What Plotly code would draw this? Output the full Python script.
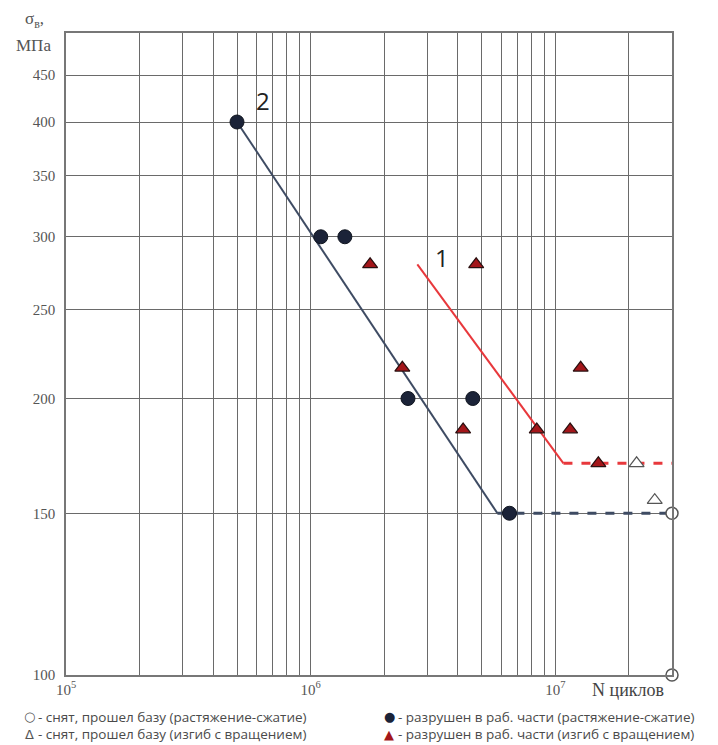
import numpy as np
import plotly.graph_objects as go

# Fatigue test results: stress amplitude vs. number of cycles
# tension-compression, failed in the working part
tc_fail_N = [5.0e5, 1.1e6, 1.38e6, 2.5e6, 4.6e6, 6.5e6]
tc_fail_S = [400, 300, 300, 200, 200, 150]
# tension-compression, run-out (removed after reaching the base)
tc_run_N = [3.0e7, 3.0e7]
tc_run_S = [150, 100]
# rotating bending, failed in the working part
rb_fail_N = [1.75e6, 2.37e6, 4.75e6, 4.2e6, 8.4e6, 1.15e7, 1.27e7, 1.5e7]
rb_fail_S = [280, 216, 280, 185, 185, 185, 216, 170]
# rotating bending, run-out
rb_run_N = [2.15e7, 2.55e7]
rb_run_S = [170, 155]

# Fatigue curves: sloped part (solid) and endurance limit (dashed)
curve2_N = [5.0e5, 5.8e6]
curve2_S = [400, 150]
curve2_lim_N = [5.8e6, 3.0e7]
curve2_lim_S = [150, 150]
curve1_N = [2.73e6, 1.08e7]
curve1_S = [280, 170]
curve1_lim_N = [1.08e7, 3.0e7]
curve1_lim_S = [170, 170]

y_ticks = [100, 150, 200, 250, 300, 350, 400, 450]
x_grid = [1e5] + [k * 1e5 for k in range(2, 10)] + [1e6] + \
         [k * 1e6 for k in range(2, 10)] + [1e7, 2e7]
x_text = {1e5: "10<sup>5</sup>", 1e6: "10<sup>6</sup>", 1e7: "10<sup>7</sup>"}
x_ticktext = [x_text.get(v, "") for v in x_grid]

NAVY = "#1b2338"
NAVY_LINE = "#3e4b63"
RED = "#a3161a"
RED_LINE = "#e8383c"
GRID = "#6a6a6a"
TXT = "#555555"

fig = go.Figure()

fig.add_trace(go.Scatter(x=curve2_N, y=curve2_S, mode="lines",
                         line=dict(color=NAVY_LINE, width=2)))
fig.add_trace(go.Scatter(x=curve2_lim_N, y=curve2_lim_S, mode="lines",
                         line=dict(color=NAVY_LINE, width=3, dash="dash")))
fig.add_trace(go.Scatter(x=curve1_N, y=curve1_S, mode="lines",
                         line=dict(color=RED_LINE, width=2)))
fig.add_trace(go.Scatter(x=curve1_lim_N, y=curve1_lim_S, mode="lines",
                         line=dict(color=RED_LINE, width=3, dash="dash")))

fig.add_trace(go.Scatter(x=tc_fail_N, y=tc_fail_S, mode="markers",
                         marker=dict(symbol="circle", size=14, color=NAVY,
                                     line=dict(color="#10151f", width=1))))
fig.add_trace(go.Scatter(x=tc_run_N, y=tc_run_S, mode="markers", cliponaxis=False,
                         marker=dict(symbol="circle", size=12, color="white",
                                     line=dict(color="#555555", width=1.5))))
fig.add_trace(go.Scatter(x=rb_fail_N, y=rb_fail_S, mode="markers",
                         marker=dict(symbol="triangle-up", size=13, color=RED,
                                     line=dict(color="#2a1010", width=1.2))))
fig.add_trace(go.Scatter(x=rb_run_N, y=rb_run_S, mode="markers",
                         marker=dict(symbol="triangle-up", size=13, color="white",
                                     line=dict(color="#555555", width=1.2))))

L, R, T, B = 66, 46, 33, 70
W, H = 718, 745
pw, ph = W - L - R, H - T - B


def px(x):
    return (x - L) / pw


def py(y):
    return (H - B - y) / ph


def label(x0, y0, text, font, xanchor="center"):
    return dict(x=px(x0), y=py(y0), xref="paper", yref="paper",
                xanchor=xanchor, yanchor="middle", text=text,
                showarrow=False, font=font)


ann = []
# curve numbers
num_font = dict(size=24, color="#222222", family="Open Sans")
ann.append(dict(x=np.log10(6.4e5), y=np.log10(422), xref="x", yref="y",
                xanchor="center", yanchor="middle",
                text="2", showarrow=False, font=num_font))
ann.append(dict(x=np.log10(3.45e6), y=np.log10(285), xref="x", yref="y",
                xanchor="center", yanchor="middle",
                text="1", showarrow=False, font=num_font))
# axis captions
serif = dict(size=17, color=TXT, family="Liberation Serif")
ann.append(label(34, 20, "σ<sub>в</sub>,", serif))
ann.append(label(33, 45, "МПа", serif))
ann.append(label(628, 690, "N циклов",
                 dict(size=18, color="#444444", family="Liberation Serif")))

# legend: symbol + description
leg_font = dict(size=13.5, color="#4a4a4a", family="Open Sans")
legend_rows = [
    (29, 717, "○", "#555555", "- снят, прошел базу (растяжение-сжатие)"),
    (29, 734, "Δ", "#555555", "- снят, прошел базу (изгиб с вращением)"),
    (389, 717, "●", NAVY, "- разрушен в раб. части (растяжение-сжатие)"),
    (389, 734, "▲", RED, "- разрушен в раб. части (изгиб с вращением)"),
]
for x0, y0, sym, col, t in legend_rows:
    ann.append(label(x0, y0, sym, dict(size=13, color=col, family="DejaVu Sans")))
    ann.append(label(x0 + 7, y0, t, leg_font, xanchor="left"))

fig.update_layout(
    width=W, height=H,
    margin=dict(l=L, r=R, t=T, b=B, pad=0),
    paper_bgcolor="white", plot_bgcolor="white",
    showlegend=False,
    annotations=ann,
    xaxis=dict(type="log", range=[5, np.log10(3e7)],
               tickvals=x_grid, ticktext=x_ticktext, ticks="",
               showgrid=True, gridcolor=GRID, gridwidth=1,
               showline=True, linecolor="#777777", linewidth=1.5, mirror=True,
               zeroline=False,
               tickfont=dict(family="Liberation Serif", size=15, color=TXT)),
    yaxis=dict(type="log", range=[2, np.log10(500)],
               tickvals=y_ticks, ticktext=[str(v) for v in y_ticks], ticks="",
               showgrid=True, gridcolor=GRID, gridwidth=1,
               showline=True, linecolor="#777777", linewidth=1.5, mirror=True,
               zeroline=False, ticklabelstandoff=6,
               tickfont=dict(family="Liberation Serif", size=15, color=TXT)),
)

fig.write_html("out.html")
